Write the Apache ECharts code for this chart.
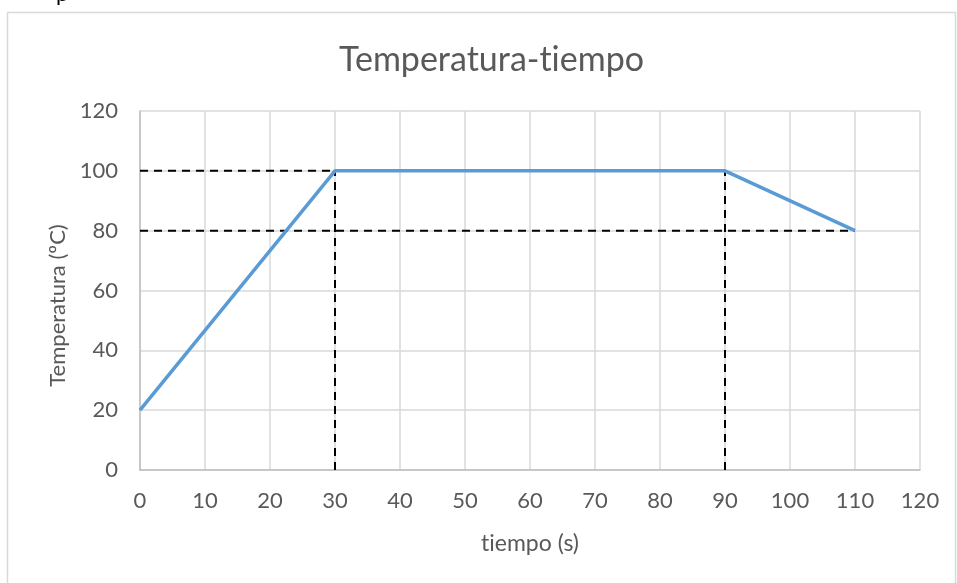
<!DOCTYPE html>
<html>
<head>
<meta charset="utf-8">
<script src="https://cdn.jsdelivr.net/npm/echarts@6/dist/echarts.min.js"></script>
<style>html,body{margin:0;padding:0;background:#fff}#c{width:957px;height:583px}</style>
</head>
<body>
<div id="c"></div>
<script>
const titleText = 'Temperatura-t\u200Ciempo';
const xName = 't\u200Ciempo (s)';
const yName = 'Temperatura (ºC)';
const tiempo = [0, 30, 90, 110];
const temperatura = [20, 100, 100, 80];
// dashed reference lines
const refH100 = [[0, 100], [30, 100]];
const refH80 = [[0, 80], [110, 80]];
const refV30 = [[30, 0], [30, 100]];
const refV90 = [[90, 0], [90, 100]];

const font = 'Lato, Carlito, "Open Sans", sans-serif';
const chart = echarts.init(document.getElementById('c'), null, {renderer: 'canvas'});
const dashStyle = {color: '#000', width: 2, type: [8, 6]};
function refSeries(d) {
  return {type: 'line', data: d, symbol: 'none', silent: true, lineStyle: dashStyle, z: 3};
}
chart.setOption({
  animation: false,
  title: {text: titleText, left: 334, top: 38, textStyle: {fontFamily: font, fontSize: 34, fontWeight: 'normal', color: '#595959'}},
  grid: {left: 140, right: 37, top: 111, bottom: 113},
  xAxis: {
    type: 'value', min: 0, max: 120, interval: 10,
    name: xName, nameLocation: 'middle', nameGap: 62,
    nameTextStyle: {fontFamily: font, fontSize: 23, color: '#595959'},
    axisLine: {lineStyle: {color: '#bfbfbf', width: 1.5}},
    axisTick: {show: false},
    axisLabel: {fontFamily: font, fontSize: 22, color: '#595959', margin: 20},
    splitLine: {lineStyle: {color: '#d9d9d9', width: 1.5}}
  },
  yAxis: {
    type: 'value', min: 0, max: 120, interval: 20,
    name: yName, nameLocation: 'middle', nameGap: 65,
    nameTextStyle: {fontFamily: font, fontSize: 22, color: '#595959', padding: [0, 30, 0, 0]},
    axisLine: {show: true, lineStyle: {color: '#bfbfbf', width: 1.5}},
    axisTick: {show: false},
    axisLabel: {fontFamily: font, fontSize: 22, color: '#595959', margin: 22},
    splitLine: {lineStyle: {color: '#d9d9d9', width: 1.5}}
  },
  series: [
    refSeries(refH100), refSeries(refH80), refSeries(refV30), refSeries(refV90),
    {type: 'line', data: tiempo.map((t, i) => [t, temperatura[i]]), symbol: 'none',
     lineStyle: {color: '#5b9bd5', width: 3.5}, z: 4}
  ],
  graphic: [
    {type: 'rect', shape: {x: 7.5, y: 12.5, width: 948, height: 600}, style: {fill: 'none', stroke: '#d9d9d9', lineWidth: 1.5}, silent: true},
    {type: 'text', x: 56, y: -17, style: {text: 'p', fontFamily: font, fontSize: 22, fill: '#000'}, silent: true}
  ]
});
</script>
</body>
</html>
